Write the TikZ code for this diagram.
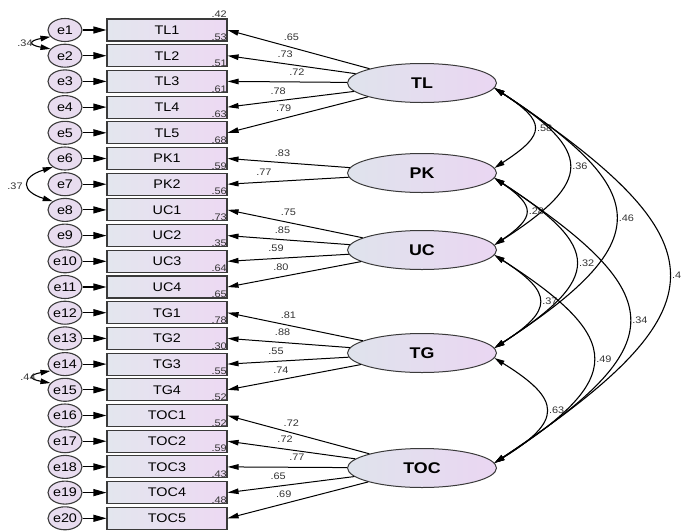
\documentclass[tikz,border=0pt]{standalone}
\usepackage{fontspec}
\setmainfont{Liberation Sans}[FakeStretch=1.15]
\usetikzlibrary{shapes.geometric,arrows.meta,positioning}

\definecolor{boxleft}{HTML}{E3E6EE}
\definecolor{boxright}{HTML}{EDD9F3}
\definecolor{latleft}{HTML}{DFE3EC}
\definecolor{latright}{HTML}{EAD6F2}
\definecolor{errfill}{HTML}{E8DCEF}
\definecolor{boxline}{HTML}{3A3A3A}
\definecolor{numgray}{HTML}{333333}

\tikzset{
  obs/.style={rectangle,draw=boxline,line width=1.1pt,minimum width=120pt,minimum height=22pt,
    left color=boxleft,right color=boxright,font=\fontsize{12.5}{13}\selectfont},
  err/.style={ellipse,draw=boxline,line width=1.1pt,minimum width=34pt,minimum height=23pt,
    inner sep=0pt,fill=errfill,font=\fontsize{12.5}{13}\selectfont},
  lat/.style={ellipse,draw=boxline,line width=1pt,minimum width=149pt,minimum height=39pt,
    left color=latleft,right color=latright,font=\fontsize{15.5}{16}\selectfont\bfseries},
  coef/.style={font=\fontsize{9.5}{10}\selectfont,text=numgray,inner sep=1pt},
  rsq/.style={coef,anchor=south east,inner sep=0.6pt},
  load/.style={draw,line width=1pt,-{Triangle[length=11pt,width=5.5pt]}},
  errarrow/.style={draw,line width=1.1pt,-{Triangle[length=13pt,width=7pt]}},
  cov/.style={draw,line width=1.1pt,{Triangle[length=10pt,width=5.5pt]}-{Triangle[length=10pt,width=5.5pt]}}
}

\begin{document}
\begin{tikzpicture}[x=1pt,y=-1pt]
  \useasboundingbox (0,0) rectangle (681,531);

  % observed variables
  \begin{scope}[every node/.style={obs}]
    \node (TL1)  at (167,30)    {TL1};
    \node (TL2)  at (167,55.7)  {TL2};
    \node (TL3)  at (167,81.4)  {TL3};
    \node (TL4)  at (167,107.1) {TL4};
    \node (TL5)  at (167,132.8) {TL5};
    \node (PK1)  at (167,158.5) {PK1};
    \node (PK2)  at (167,184.2) {PK2};
    \node (UC1)  at (167,209.9) {UC1};
    \node (UC2)  at (167,235.6) {UC2};
    \node (UC3)  at (167,261.3) {UC3};
    \node (UC4)  at (167,287)   {UC4};
    \node (TG1)  at (167,312.7) {TG1};
    \node (TG2)  at (167,338.4) {TG2};
    \node (TG3)  at (167,364.1) {TG3};
    \node (TG4)  at (167,389.8) {TG4};
    \node (TOC1) at (167,415.5) {TOC1};
    \node (TOC2) at (167,441.2) {TOC2};
    \node (TOC3) at (167,466.9) {TOC3};
    \node (TOC4) at (167,492.6) {TOC4};
    \node (TOC5) at (167,518.3) {TOC5};
  \end{scope}

  % error terms
  \begin{scope}[every node/.style={err}]
    \node (e1)  at (65,30)    {e1};
    \node (e2)  at (65,55.7)  {e2};
    \node (e3)  at (65,81.4)  {e3};
    \node (e4)  at (65,107.1) {e4};
    \node (e5)  at (65,132.8) {e5};
    \node (e6)  at (65,158.5) {e6};
    \node (e7)  at (65,184.2) {e7};
    \node (e8)  at (65,209.9) {e8};
    \node (e9)  at (65,235.6) {e9};
    \node (e10) at (65,261.3) {e10};
    \node (e11) at (65,287)   {e11};
    \node (e12) at (65,312.7) {e12};
    \node (e13) at (65,338.4) {e13};
    \node (e14) at (65,364.1) {e14};
    \node (e15) at (65,389.8) {e15};
    \node (e16) at (65,415.5) {e16};
    \node (e17) at (65,441.2) {e17};
    \node (e18) at (65,466.9) {e18};
    \node (e19) at (65,492.6) {e19};
    \node (e20) at (65,518.3) {e20};
  \end{scope}

  % latent factors
  \begin{scope}[every node/.style={lat}]
    \node (TL)  at (422,83)  {TL};
    \node (PK)  at (422,173) {PK};
    \node (UC)  at (422,250) {UC};
    \node (TG)  at (422,353) {TG};
    \node (TOC) at (422,468) {TOC};
  \end{scope}

  % squared multiple correlations
  \node[rsq] (sq0)  at (TL1.north east) {.42};
  \node[rsq] (sq1)  at (TL1.south east) {.53};
  \node[rsq] (sq2)  at (TL2.south east) {.51};
  \node[rsq] (sq3)  at (TL3.south east) {.61};
  \node[rsq] (sq4)  at (TL4.south east) {.63};
  \node[rsq] (sq5)  at (TL5.south east) {.68};
  \node[rsq] (sq6)  at (PK1.south east) {.59};
  \node[rsq] (sq7)  at (PK2.south east) {.56};
  \node[rsq] (sq8)  at (UC1.south east) {.73};
  \node[rsq] (sq9)  at (UC2.south east) {.35};
  \node[rsq] (sq10) at (UC3.south east) {.64};
  \node[rsq] (sq11) at (UC4.south east) {.65};
  \node[rsq] (sq12) at (TG1.south east) {.78};
  \node[rsq] (sq13) at (TG2.south east) {.30};
  \node[rsq] (sq14) at (TG3.south east) {.55};
  \node[rsq] (sq15) at (TG4.south east) {.52};
  \node[rsq] (sq16) at (TOC1.south east) {.52};
  \node[rsq] (sq17) at (TOC2.south east) {.59};
  \node[rsq] (sq18) at (TOC3.south east) {.43};
  \node[rsq] (sq19) at (TOC4.south east) {.48};

  % error arrows
  \begin{scope}[every edge/.style={errarrow}]
    \path (e1)  edge (TL1);
    \path (e2)  edge (TL2);
    \path (e3)  edge (TL3);
    \path (e4)  edge (TL4);
    \path (e5)  edge (TL5);
    \path (e6)  edge (PK1);
    \path (e7)  edge (PK2);
    \path (e8)  edge (UC1);
    \path (e9)  edge (UC2);
    \path (e10) edge (UC3);
    \path (e11) edge (UC4);
    \path (e12) edge (TG1);
    \path (e13) edge (TG2);
    \path (e14) edge (TG3);
    \path (e15) edge (TG4);
    \path (e16) edge (TOC1);
    \path (e17) edge (TOC2);
    \path (e18) edge (TOC3);
    \path (e19) edge (TOC4);
    \path (e20) edge (TOC5);
  \end{scope}

  % factor loadings
  \begin{scope}[every node/.style={coef,above=5pt}]
    \begin{scope}[every edge/.style={load}]
      \path (TL)  edge node[pos=0.55] {.65} (TL1.east);
      \path (TL)  edge node[pos=0.55] {.73} (TL2.east);
      \path (TL)  edge node[pos=0.42] {.72} (TL3.east);
      \path (TL)  edge node[pos=0.6]  {.78} (TL4.east);
      \path (TL)  edge node[pos=0.6]  {.79} (TL5.east);
      \path (PK)  edge node[pos=0.55] {.83} (PK1.east);
      \path (PK)  edge node[pos=0.7]  {.77} (PK2.east);
      \path (UC)  edge node[pos=0.55] {.75} (UC1.east);
      \path (UC)  edge node[pos=0.55] {.85} (UC2.east);
      \path (UC)  edge node[pos=0.6]  {.59} (UC3.east);
      \path (UC)  edge node[pos=0.6]  {.80} (UC4.east);
      \path (TG)  edge node[pos=0.55] {.81} (TG1.east);
      \path (TG)  edge node[pos=0.55] {.88} (TG2.east);
      \path (TG)  edge node[pos=0.6]  {.55} (TG3.east);
      \path (TG)  edge node[pos=0.6]  {.74} (TG4.east);
      \path (TOC) edge node[pos=0.55] {.72} (TOC1.east);
      \path (TOC) edge node[pos=0.55] {.72} (TOC2.east);
      \path (TOC) edge node[pos=0.42] {.77} (TOC3.east);
      \path (TOC) edge node[pos=0.6]  {.65} (TOC4.east);
      \path (TOC) edge node[pos=0.6]  {.69} (TOC5.east);
    \end{scope}
  \end{scope}

  % error covariances
  \path[cov] (e1.205) .. controls +(-22,4) and +(-22,-4) .. (e2.155);
  \node[coef] (c12) at (25,43) {.34};
  \path[cov] (e6.215) .. controls +(-32,10) and +(-32,-10) .. (e8.145);
  \node[coef] (c68) at (15,186) {.37};
  \path[cov] (e14.205) .. controls +(-22,4) and +(-22,-4) .. (e15.155);
  \node[coef] (c1415) at (28,377) {.44};

  % factor correlations
  \begin{scope}[every node/.style={coef,right=2pt,pos=0.5}]
    \path[cov] (TL.-4) .. controls +(52,34) and +(52,-34) .. node {.58} (PK.4);
    \path[cov] (TL.-4) .. controls +(99,64) and +(99,-64) .. node {.36} (UC.4);
    \path[cov] (TL.-4) .. controls +(161,105) and +(161,-105) .. node {.46} (TG.4);
    \path[cov] (TL.-4) .. controls +(232,155) and +(232,-155) .. node {.4} (TOC.4);
    \path[cov] (PK.-4) .. controls +(41,28) and +(41,-28) .. node {.28} (UC.4);
    \path[cov] (PK.-4) .. controls +(108,70) and +(108,-70) .. node {.32} (TG.4);
    \path[cov] (PK.-4) .. controls +(179,118) and +(179,-118) .. node {.34} (TOC.4);
    \path[cov] (UC.-4) .. controls +(59,38) and +(59,-38) .. node {.37} (TG.4);
    \path[cov] (UC.-4) .. controls +(131,84) and +(131,-84) .. node {.49} (TOC.4);
    \path[cov] (TG.-4) .. controls +(68,42) and +(68,-42) .. node {.63} (TOC.4);
  \end{scope}

\end{tikzpicture}
\end{document}
